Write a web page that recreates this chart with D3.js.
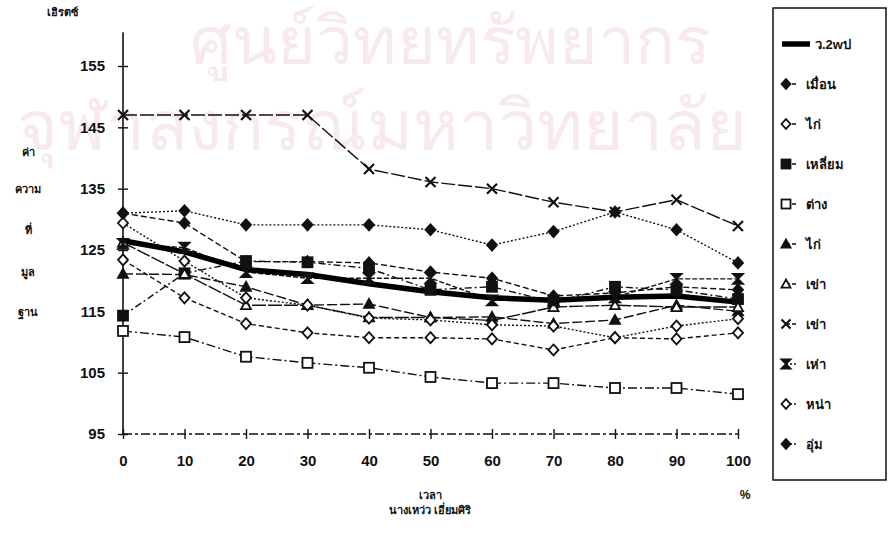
<!DOCTYPE html>
<html><head><meta charset="utf-8">
<script src="https://cdn.jsdelivr.net/npm/d3@7"></script>
<style>
html,body{margin:0;padding:0;background:#fff;}
svg{display:block;}
text{font-family:"Liberation Sans",Arial,"Noto Sans",sans-serif;font-weight:bold;fill:#111;}
</style></head>
<body>
<svg id="chart" width="892" height="537"></svg>
<script>
// ---- data ----
const times = [0,10,20,30,40,50,60,70,80,90,100];
const yTicks = [95,105,115,125,135,145,155];
const seriesNames = ["ว.2wป","เมื่อน","ไก่","เหลี่ยม","ต่าง","ไก่","เข่า","เข่า","เห่า","หน่า","อุ่ม"];
const avgLine      = [126.5,124.7,121.8,121.0,119.5,118.2,117.2,116.8,117.3,117.5,116.5];
const meuan        = [131,129.4,123.1,123.1,122.9,121.4,120.4,117.5,118.0,119.0,118.5];
const kai1         = [123.4,117.2,113.0,111.5,110.7,110.7,110.5,108.7,110.7,110.5,111.5];
const liam         = [114.3,121.2,123.2,123.0,122.0,118.5,119.0,116.5,119.0,118.5,117.0];
const tang         = [111.8,110.8,107.6,106.6,105.8,104.3,103.3,103.3,102.5,102.5,101.5];
const kai2         = [121.1,121.0,119.0,116.0,116.2,114.0,114.1,113.0,113.6,116.0,115.0];
const khao1        = [126.2,121.1,116.0,116.0,114.0,114.0,113.5,115.7,116.0,115.7,115.7];
const khao2        = [147,147,147,147,138.2,136.1,135.0,132.8,131.2,133.2,128.9];
const hao          = [126.0,125.4,121.4,120.4,120.4,120.4,116.8,116.8,117.3,120.3,120.3];
const na           = [129.4,123.2,117.2,116.0,113.9,113.6,112.8,112.6,110.7,112.6,113.8];
const um           = [131,131.4,129.1,129.1,129.1,128.3,125.8,128.0,131.2,128.3,122.9];
const allValues = [avgLine,meuan,kai1,liam,tang,kai2,khao1,khao2,hao,na,um];

// ---- styles ----
const markers = [null,"fdiamond","odiamond","fsquare","osquare","ftri","otri","x","hourglass","odiamond","fdiamond"];
const dashes  = [null,"6,3","5,3","7,3,2,3","9,3,2,3","10,3","14,2","14,3","5,2","2,2","2,2"];

const svg = d3.select("#chart");
const x = d3.scaleLinear().domain([0,100]).range([123,738]);
const y = d3.scaleLinear().domain([95,155]).range([434,66]);

// watermark (faint scanned background text)
svg.append("text").attr("x",450).attr("y",64).attr("text-anchor","middle")
  .style("font-size","66px").style("font-weight","normal").style("fill","#f7e9ef").text("ศูนย์วิทยทรัพยากร");
svg.append("text").attr("x",382).attr("y",150).attr("text-anchor","middle")
  .style("font-size","70px").style("font-weight","normal").style("fill","#f7e9ef").text("จุฬาลงกรณ์มหาวิทยาลัย");

// axes
svg.append("line").attr("x1",x(0)).attr("x2",x(0)).attr("y1",y(95)).attr("y2",y(160.5))
  .attr("stroke","#111").attr("stroke-width",1.6);
svg.append("line").attr("x1",x(0)).attr("x2",x(100)).attr("y1",y(95)).attr("y2",y(95))
  .attr("stroke","#111").attr("stroke-width",1.3).attr("stroke-dasharray","9,3,3,3");

const yAxis = svg.append("g").attr("transform",`translate(${x(0)},0)`)
  .call(d3.axisLeft(y).tickValues(yTicks).tickSize(5).tickPadding(13));
yAxis.select(".domain").remove();
yAxis.selectAll(".tick line").attr("x1",-5).attr("x2",5).attr("stroke","#111").attr("stroke-width",1.4);
yAxis.selectAll(".tick text").style("font-size","15px").style("font-family","Liberation Sans, Arial, sans-serif").style("font-weight","bold");

const xAxis = svg.append("g").attr("transform",`translate(0,${y(95)})`)
  .call(d3.axisBottom(x).tickValues(times).tickSize(5).tickPadding(16));
xAxis.select(".domain").remove();
xAxis.selectAll(".tick line").attr("y1",-5).attr("y2",5).attr("stroke","#111").attr("stroke-width",1.4);
xAxis.selectAll(".tick text").style("font-size","15px").style("font-family","Liberation Sans, Arial, sans-serif").style("font-weight","bold");

// axis titles
svg.append("text").attr("x",62).attr("y",16).attr("text-anchor","middle").style("font-size","11px").text("เฮิรตซ์");
const vLabel = ["ค่า","ความ","ที่","มูล","ฐาน"];
const vLabelY = [156,193,234,276,316];
vLabel.forEach((t,i)=>svg.append("text").attr("x",28).attr("y",vLabelY[i]).attr("text-anchor","middle").style("font-size","11px").text(t));
svg.append("text").attr("x",430).attr("y",499).attr("text-anchor","middle").style("font-size","11px").text("เวลา");
svg.append("text").attr("x",430).attr("y",514).attr("text-anchor","middle").style("font-size","11px").text("นางเหว่ว เอี่ยมศิริ");
svg.append("text").attr("x",745).attr("y",499).attr("text-anchor","middle").style("font-size","12px").text("%");

// marker drawing
function drawMarker(g, type, cx, cy, sc){
  const s = 5*(sc||1);
  if(!type) return;
  if(type==="fdiamond"||type==="odiamond"){
    const h = s*1.1;
    g.append("path").attr("d",`M${cx},${cy-h}L${cx+s},${cy}L${cx},${cy+h}L${cx-s},${cy}Z`)
      .attr("fill",type==="fdiamond"?"#111":"#fff").attr("stroke","#111").attr("stroke-width",1.8);
  } else if(type==="fsquare"||type==="osquare"){
    g.append("rect").attr("x",cx-s).attr("y",cy-s).attr("width",2*s).attr("height",2*s)
      .attr("fill",type==="fsquare"?"#111":"#fff").attr("stroke","#111").attr("stroke-width",1.8);
  } else if(type==="ftri"||type==="otri"){
    g.append("path").attr("d",`M${cx},${cy-s}L${cx+s},${cy+s*0.8}L${cx-s},${cy+s*0.8}Z`)
      .attr("fill",type==="ftri"?"#111":"#fff").attr("stroke","#111").attr("stroke-width",1.8);
  } else if(type==="x"){
    g.append("path").attr("d",`M${cx-s},${cy-s}L${cx+s},${cy+s}M${cx-s},${cy+s}L${cx+s},${cy-s}`)
      .attr("stroke","#111").attr("stroke-width",2.2).attr("fill","none");
  } else if(type==="hourglass"){
    g.append("path").attr("d",`M${cx-s},${cy-s}L${cx+s},${cy-s}L${cx-s},${cy+s}L${cx+s},${cy+s}Z`)
      .attr("stroke","#111").attr("stroke-width",1.8).attr("fill","#111");
  }
}

const line = d3.line().x((d,i)=>x(times[i])).y(d=>y(d));
const plot = svg.append("g");
for(let k=1;k<allValues.length;k++){
  plot.append("path").datum(allValues[k]).attr("d",line).attr("fill","none")
    .attr("stroke","#111").attr("stroke-width",1.4).attr("stroke-dasharray",dashes[k]);
}
plot.append("path").datum(avgLine).attr("d",line).attr("fill","none").attr("stroke","#000").attr("stroke-width",5.5);
for(let k=1;k<allValues.length;k++){
  allValues[k].forEach((v,i)=>drawMarker(plot,markers[k],x(times[i]),y(v)));
}

// legend
const lg = svg.append("g");
lg.append("rect").attr("x",773).attr("y",8).attr("width",113).attr("height",472)
  .attr("fill","none").attr("stroke","#111").attr("stroke-width",1.5);
seriesNames.forEach((name,k)=>{
  const ly = 44 + k*40;
  if(k===0){
    lg.append("line").attr("x1",782).attr("x2",810).attr("y1",ly).attr("y2",ly).attr("stroke","#000").attr("stroke-width",5.5);
    lg.append("text").attr("x",815).attr("y",ly+5).style("font-size","13px").text(name);
  } else {
    lg.append("line").attr("x1",786).attr("x2",798).attr("y1",ly).attr("y2",ly).attr("stroke","#111").attr("stroke-width",1.3).attr("stroke-dasharray",k>=8?"2,2":"4,2");
    drawMarker(lg,markers[k],786,ly,0.9);
    lg.append("text").attr("x",806).attr("y",ly+5).style("font-size","13px").text(name);
  }
});
</script>
</body></html>
